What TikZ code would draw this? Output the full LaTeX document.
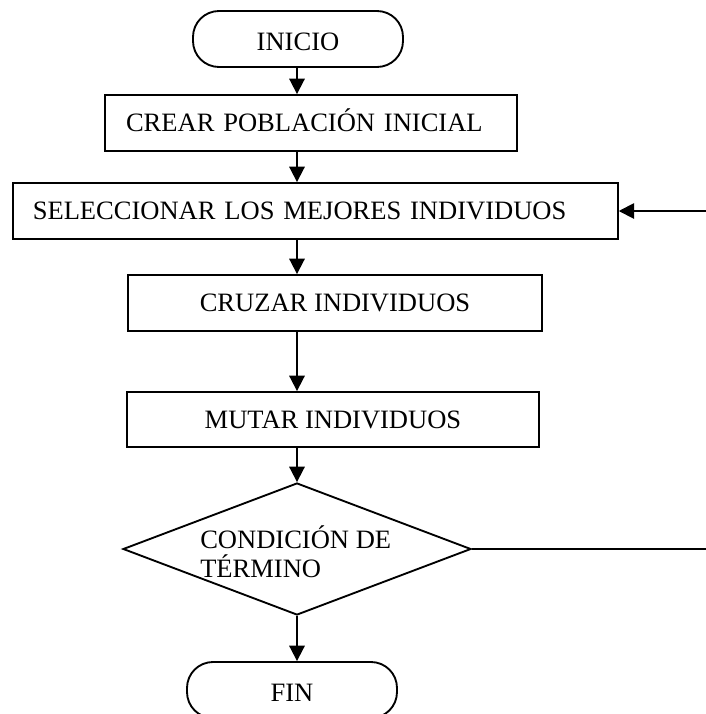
\documentclass[tikz,border=0pt]{standalone}
\usepackage{fontspec}
\setmainfont{Liberation Serif}
\usetikzlibrary{shapes.geometric,arrows.meta}
\begin{document}
\begin{tikzpicture}[x=0.75pt,y=-0.75pt,
  every node/.style={font=\fontsize{19.9}{21.75}\selectfont},
  arr/.style={line width=1.4pt,-{Triangle[width=11.5pt,length=11.5pt]}},
  proc/.style={draw,line width=1.4pt,rectangle,inner sep=0pt,minimum height=42pt,text height=13.2pt,text depth=0pt},
  term/.style={draw,line width=1.4pt,rectangle,rounded corners=19.5pt,inner sep=0pt,minimum width=157.5pt,minimum height=42pt,text height=17.7pt,text depth=0pt},
  decision/.style={diamond,draw,line width=1.4pt,inner sep=0pt,minimum width=261pt,minimum height=99pt},
]
\useasboundingbox (0,0) rectangle (706,714);
\clip (0,0) rectangle (706,714);

\coordinate (axis) at (297,0);
\coordinate (redge) at (708,0);

\node[term] (inicio) at (298,39) {INICIO};
\node[proc, inner xsep=15.75pt, text width=277.5pt, align=left] (crear) at (311,123) {CREAR POBLACIÓN INICIAL};
\node[proc, inner xsep=15pt, text width=423.75pt, align=left] (selec) at (315.3,211) {SELECCIONAR LOS MEJORES INDIVIDUOS};
\node[proc, minimum width=310.5pt] (cruzar) at (335,303) {CRUZAR INDIVIDUOS};
\node[proc, minimum width=309pt, minimum height=41.25pt] (mutar) at (333,419.5) {MUTAR INDIVIDUOS};
\node[decision] (cond) at (297,549) {};
\node[anchor=base west, align=left, inner sep=0pt] (condtxt) at (200,577) {CONDICIÓN DE\\TÉRMINO};
\node[term] (fin) at (292,690) {FIN};

\draw[arr] (inicio.south -| axis) -- (crear.north -| axis);
\draw[arr] (crear.south -| axis) -- (selec.north -| axis);
\draw[arr] (selec.south -| axis) -- (cruzar.north -| axis);
\draw[arr] (cruzar.south -| axis) -- (mutar.north -| axis);
\draw[arr] (mutar.south -| axis) -- (cond.north);
\draw[arr] (cond.south) -- (fin.north -| cond.south);
\draw[arr] (cond.east) -- (cond.east -| redge) |- (selec.east);
\end{tikzpicture}
\end{document}
